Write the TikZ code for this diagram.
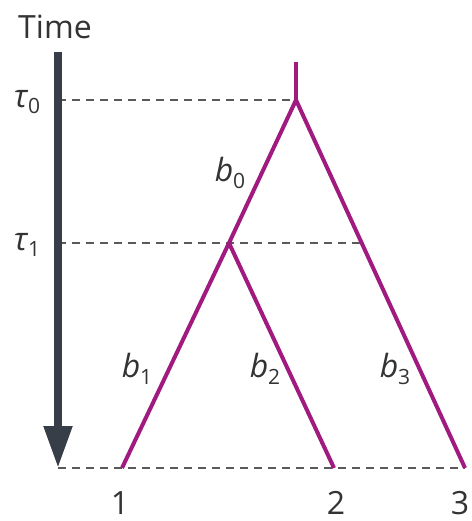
\documentclass[tikz,border=0pt]{standalone}
\usepackage{fontspec}
\setmainfont{Open Sans}
\usetikzlibrary{arrows.meta}
\definecolor{branch}{RGB}{160,26,128}
\definecolor{axis}{RGB}{55,62,72}
\definecolor{dash}{RGB}{90,90,90}
\newcommand{\subtxt}[1]{\raisebox{-0.4ex}{\fontsize{21}{24}\selectfont #1}}
\begin{document}
\begin{tikzpicture}[x=1pt,y=-1pt,
  branchline/.style={draw=branch,line width=4pt},
  guide/.style={draw=dash,line width=1.4pt,dash pattern=on 8pt off 6pt},
  lbl/.style={font=\fontsize{32}{36}\selectfont,text=black!80,inner sep=0pt}]
\useasboundingbox (0,0) rectangle (471,521);
% tree points
\coordinate (top) at (296,62);
\coordinate (r0) at (296,100);
\coordinate (r1) at (229,243);
\coordinate (l1) at (122,468);
\coordinate (l2) at (334,468);
\coordinate (l3) at (465,468);
\coordinate (a0) at (58,100);
\coordinate (a1) at (58,243);
\coordinate (a2) at (58,468);
\coordinate (m3) at (361.7,243);
\coordinate (arrtop) at (58,52);
% dashed guides
\draw[guide] (a0) -- (r0);
\draw[guide] (a1) -- (m3);
\draw[guide] (a2) -- (l3);
% time arrow
\draw[axis,line width=8pt,-{Triangle[length=42pt,width=27pt]}] (arrtop) -- (a2);
% branches
\draw[branchline] (top) -- (r0);
\draw[branchline,line join=miter] (l3) -- (r0) -- (r1);
\draw[branchline] (r1) -- (l1);
\draw[branchline] (r1) -- (l2);
% labels
\node[lbl] (time) at (55,27) {Time};
\node[lbl] (t0) at (27,102) {\textit{τ}\subtxt{0}};
\node[lbl] (t1) at (27,245) {\textit{τ}\subtxt{1}};
\node[lbl] (b0) at (230,173) {\textit{b}\subtxt{0}};
\node[lbl] (b1) at (137,369) {\textit{b}\subtxt{1}};
\node[lbl] (b2) at (265,369) {\textit{b}\subtxt{2}};
\node[lbl] (b3) at (395,369) {\textit{b}\subtxt{3}};
\node[lbl] (n1) at (120,503) {1};
\node[lbl] (n2) at (336,503) {2};
\node[lbl] (n3) at (460,503) {3};
\end{tikzpicture}
\end{document}
